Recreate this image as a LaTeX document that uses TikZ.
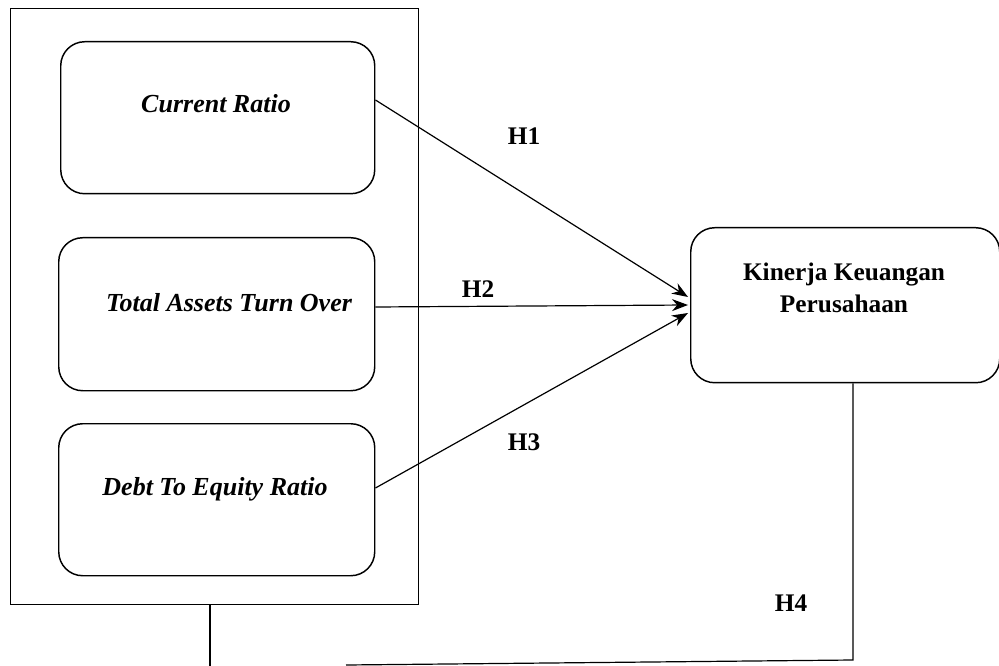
\documentclass[tikz,border=0pt]{standalone}
\usepackage{fontspec}
\setmainfont{Liberation Serif}
\usetikzlibrary{arrows.meta}
\begin{document}
\begin{tikzpicture}[x=0.75pt,y=-0.75pt,
  every node/.style={inner sep=0pt},
  frame/.style={draw, line width=1.1pt},
  varbox/.style={draw, line width=1.1pt, rounded corners=18pt},
  lbl/.style={font=\fontsize{19.5}{23}\selectfont\bfseries\itshape},
  hlbl/.style={font=\fontsize{19}{23}\selectfont\bfseries},
  conn/.style={line width=0.9pt, -{Stealth[length=12pt,width=9pt]}},
  plain/.style={line width=0.9pt}]
\useasboundingbox (0,0) rectangle (999,666);
\node[frame, minimum width=408*0.75pt, minimum height=596*0.75pt, anchor=north west] (outer) at (10,8) {};
\node[varbox, minimum width=314*0.75pt, minimum height=152*0.75pt, anchor=north west] (cr) at (60,41) {};
\node[lbl] at (216,104) {Current Ratio};
\node[varbox, minimum width=316*0.75pt, minimum height=153*0.75pt, anchor=north west] (tato) at (58,237) {};
\node[lbl] at (229,303) {Total Assets Turn Over};
\node[varbox, minimum width=316*0.75pt, minimum height=152*0.75pt, anchor=north west] (der) at (58,423) {};
\node[lbl] at (215,489) {Debt To Equity Ratio};
\node[varbox, minimum width=309*0.75pt, minimum height=155*0.75pt, anchor=north west] (kk) at (690,227) {};
\node[hlbl, align=center, font=\fontsize{19}{24}\selectfont\bfseries] at (844,288) {Kinerja Keuangan\\Perusahaan};
\coordinate (t1) at (688,297);
\coordinate (t2) at (688,305);
\coordinate (t3) at (688,313);
\draw[conn] (cr.east |- 0,100) -- (t1);
\draw[conn] (tato.east |- 0,307) -- (t2);
\draw[conn] (der.east |- 0,488) -- (t3);
\node[hlbl] at (524,136) {H1};
\node[hlbl] at (478,289) {H2};
\node[hlbl] at (524,442) {H3};
\node[hlbl] at (791,603) {H4};
\coordinate (b1) at (210,666);
\coordinate (h1) at (346,665);
\coordinate (h2) at (853,660);
\draw[plain] (outer.south -| 210,0) -- (b1);
\draw[plain] (h1) -- (h2) -- (kk.south -| 853,0);
\end{tikzpicture}
\end{document}
